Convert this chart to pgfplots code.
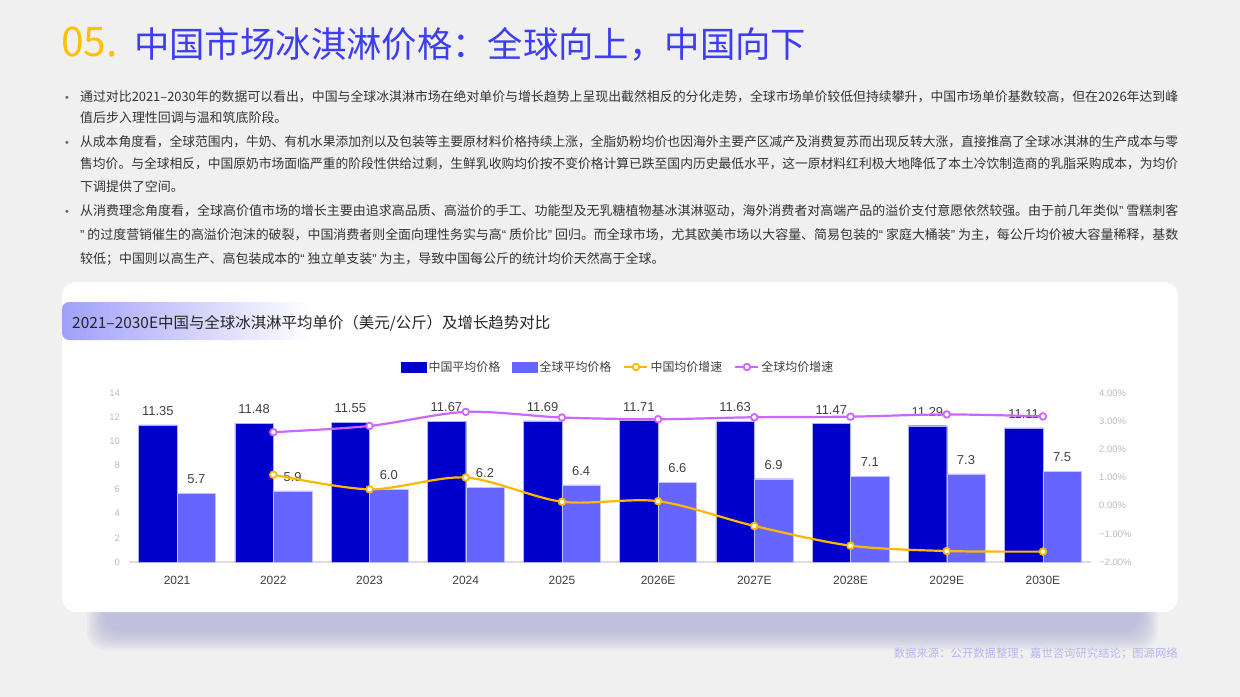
\documentclass[border=0pt]{standalone}
\usepackage{fontspec}
\setmainfont{Noto Sans CJK SC}
\newfontfamily\arial{Liberation Sans}
\usepackage{graphicx}
\usepackage{pgfplots}
\pgfplotsset{compat=1.18}
\definecolor{bgc}{HTML}{F0F0F0}
\definecolor{cnc}{HTML}{0000CC}
\definecolor{glc}{HTML}{6666FF}
\definecolor{orc}{HTML}{FFB800}
\definecolor{puc}{HTML}{CC66FF}
\definecolor{titblue}{HTML}{3D3DF2}
\definecolor{titorange}{HTML}{FFC000}
\definecolor{txt}{HTML}{333333}
\definecolor{lbl}{HTML}{404040}
\definecolor{tick}{HTML}{BBBBBB}
\definecolor{shadowc}{HTML}{ACACD6}
\definecolor{bandc}{HTML}{A0A0FA}
\definecolor{foot}{HTML}{B4B4F2}
\pgfplotsset{
  linelegend/.style={legend image code/.code={\draw[##1, mark repeat=2, mark phase=2] plot coordinates {(0bp,0bp) (11.5bp,0bp) (23bp,0bp)};}},
  cnlegend/.style={legend image code/.code={\fill[cnc] (0bp,-5bp) rectangle (25bp,5bp);}},
  gllegend/.style={legend image code/.code={\fill[glc] (0bp,-5bp) rectangle (25bp,5bp);}},
}
\newcommand{\oq}{{\arial “}}
\newcommand{\cq}{{\arial ”}}
\newcommand{\bodyline}[2]{\node[anchor=base west, inner sep=0pt, text=txt] at (80,-#1) {\fontsize{13}{13}\selectfont\resizebox{1098bp}{\height}{#2}};}
\newcommand{\lastline}[2]{\node[anchor=base west, inner sep=0pt, text=txt] at (80,-#1) {\fontsize{13}{13}\selectfont #2};}
\newcommand{\bul}[1]{\node[anchor=base, inner sep=0pt, text=black!60] at (67,-#1) {\arial\fontsize{11}{11}\selectfont •};}
\begin{document}
\begin{tikzpicture}[x=1bp,y=1bp]
\fill[bgc] (0,0) rectangle (1240,-697);
% title
\node[anchor=base west, inner sep=0pt, text=titorange] at (61,-57) {\fontsize{41}{41}\selectfont 05.};
\node[anchor=base west, inner sep=0pt, text=titblue] at (134,-58) {\fontsize{35.5}{35.5}\selectfont 中国市场冰淇淋价格：全球向上，中国向下};
% body
\bul{102}
\bodyline{102}{通过对比2021–2030年的数据可以看出，中国与全球冰淇淋市场在绝对单价与增长趋势上呈现出截然相反的分化走势，全球市场单价较低但持续攀升，中国市场单价基数较高，但在2026年达到峰}
\lastline{123}{值后步入理性回调与温和筑底阶段。}
\bul{147}
\bodyline{147}{从成本角度看，全球范围内，牛奶、有机水果添加剂以及包装等主要原材料价格持续上涨，全脂奶粉均价也因海外主要产区减产及消费复苏而出现反转大涨，直接推高了全球冰淇淋的生产成本与零}
\bodyline{169}{售均价。与全球相反，中国原奶市场面临严重的阶段性供给过剩，生鲜乳收购均价按不变价格计算已跌至国内历史最低水平，这一原材料红利极大地降低了本土冷饮制造商的乳脂采购成本，为均价}
\lastline{192}{下调提供了空间。}
\bul{216}
\bodyline{216}{从消费理念角度看，全球高价值市场的增长主要由追求高品质、高溢价的手工、功能型及无乳糖植物基冰淇淋驱动，海外消费者对高端产品的溢价支付意愿依然较强。由于前几年类似\cq\ 雪糕刺客}
\bodyline{240}{\cq\ 的过度营销催生的高溢价泡沫的破裂，中国消费者则全面向理性务实与高\oq\ 质价比\cq\ 回归。而全球市场，尤其欧美市场以大容量、简易包装的\oq\ 家庭大桶装\cq\ 为主，每公斤均价被大容量稀释，基数}
\lastline{263}{较低；中国则以高生产、高包装成本的\oq\ 独立单支装\cq\ 为主，导致中国每公斤的统计均价天然高于全球。}
% shadow
\foreach \i in {0,...,9}{
  \fill[shadowc, opacity=0.1, rounded corners=18bp] (105-2*\i,-300) rectangle (1140+2*\i,-632-2*\i);
}
% card
\fill[white, rounded corners=14bp] (62,-282) rectangle (1178,-612);
\shade[left color=bandc, right color=white, rounded corners=7bp] (62,-302) rectangle (312,-340);
\node[anchor=base west, inner sep=0pt, text=black!85] at (72,-328) {\fontsize{15.5}{15.5}\selectfont 2021–2030E中国与全球冰淇淋平均单价（美元/公斤）及增长趋势对比};
% footer
\node[anchor=base east, inner sep=0pt, text=foot] at (1178,-657) {\fontsize{11.4}{11.4}\selectfont 数据来源：公开数据整理；嘉世咨询研究结论；图源网络};

\begin{axis}[
  at={(129bp,-562bp)}, anchor=south west,
  width=962bp, height=169bp, scale only axis,
  xmin=-0.5, xmax=9.5, ymin=0, ymax=14,
  axis line style={draw=none}, tick style={draw=none},
  /pgf/number format/assume math mode=true,
  xtick={0,...,9},
  xticklabels={2021,2022,2023,2024,2025,2026E,2027E,2028E,2029E,2030E},
  xticklabel style={font=\arial\fontsize{12}{12}\selectfont, text=lbl, anchor=north, inner sep=0pt, yshift=-13.5bp},
  ytick={0,2,...,14},
  yticklabel style={font=\arial\fontsize{9.5}{9.5}\selectfont, text=tick, anchor=east, inner sep=0pt, xshift=-9bp},
  clip=false,
]
\draw[black!13, line width=1.5bp] (axis cs:-0.5,0) -- (axis cs:9.5,0);
\addplot[ybar, bar width=38.5bp, bar shift=-19.25bp, fill=cnc, draw=cnc!30!white, line width=0.4bp,
  nodes near coords={\pgfmathprintnumber[fixed,fixed zerofill,precision=2]{\pgfplotspointmeta}},
  nodes near coords style={font=\arial\fontsize{13}{13}\selectfont, text=lbl, anchor=south, yshift=6bp, xshift=-19.25bp}]
  coordinates {(0,11.35) (1,11.48) (2,11.55) (3,11.67) (4,11.69) (5,11.71) (6,11.63) (7,11.47) (8,11.29) (9,11.11)};
\addplot[ybar, bar width=38.5bp, bar shift=19.25bp, fill=glc, draw=glc!40!white, line width=0.4bp,
  nodes near coords={\pgfmathprintnumber[fixed,fixed zerofill,precision=1]{\pgfplotspointmeta}},
  nodes near coords style={font=\arial\fontsize{13}{13}\selectfont, text=lbl, anchor=south, yshift=6bp, xshift=19.25bp}]
  coordinates {(0,5.7) (1,5.9) (2,6.0) (3,6.2) (4,6.4) (5,6.6) (6,6.9) (7,7.1) (8,7.3) (9,7.5)};
\end{axis}

\begin{axis}[
  at={(129bp,-562bp)}, anchor=south west,
  width=962bp, height=169bp, scale only axis,
  xmin=-0.5, xmax=9.5, ymin=-2, ymax=4,
  axis line style={draw=none}, tick style={draw=none},
  xtick=\empty,
  ytick={-2,-1,0,1,2,3,4},
  yticklabels={−2.00\%,−1.00\%,0.00\%,1.00\%,2.00\%,3.00\%,4.00\%},
  yticklabel pos=right,
  yticklabel style={font=\arial\fontsize{9.5}{9.5}\selectfont, text=tick, anchor=west, inner sep=0pt, xshift=8bp},
  clip=false,
  legend columns=4,
  legend style={at={(0.5085,1.154)}, anchor=center, draw=none, fill=none,
    font=\fontsize{12}{12}\selectfont, text=lbl,
    /tikz/every even column/.append style={column sep=10bp},
    /tikz/every odd column/.append style={column sep=0bp}},
  legend cell align=left,
]
\addlegendimage{cnlegend}
\addlegendentry{中国平均价格}
\addlegendimage{gllegend}
\addlegendentry{全球平均价格}
\addplot[smooth, color=orc, line width=2.2bp, mark=*, mark size=3.3bp,
  mark options={fill=white, line width=1.8bp}, linelegend]
  coordinates {(1,1.10) (2,0.58) (3,1.00) (4,0.14) (5,0.16) (6,-0.72) (7,-1.42) (8,-1.61) (9,-1.63)};
\addlegendentry{中国均价增速}
\addplot[smooth, color=puc, line width=2.2bp, mark=*, mark size=3.3bp,
  mark options={fill=white, line width=1.8bp}, linelegend]
  coordinates {(1,2.61) (2,2.83) (3,3.33) (4,3.13) (5,3.07) (6,3.14) (7,3.16) (8,3.24) (9,3.17)};
\addlegendentry{全球均价增速}
\end{axis}
\end{tikzpicture}
\end{document}
